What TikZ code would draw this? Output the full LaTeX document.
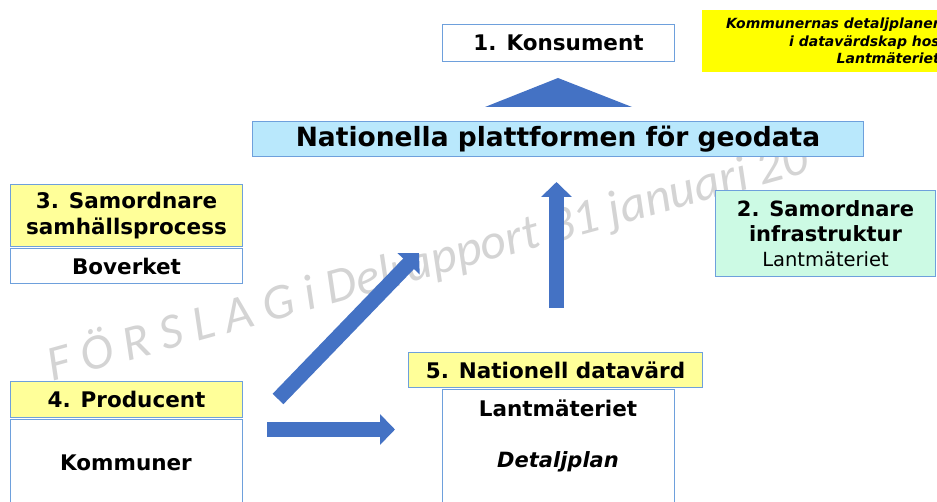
\documentclass[tikz,border=0pt]{standalone}
\usepackage{fontspec}
\setmainfont{DejaVu Sans}
\newfontfamily\wmfont{Carlito}
\usetikzlibrary{arrows.meta}
\definecolor{bordblue}{RGB}{110,160,220}
\definecolor{arrblue}{RGB}{68,114,196}
\definecolor{lightyel}{RGB}{255,255,153}
\definecolor{platblue}{RGB}{185,232,252}
\definecolor{mint}{RGB}{204,250,228}
\definecolor{wmgray}{RGB}{212,212,212}
\definecolor{notey}{RGB}{255,255,0}
\tikzset{
  box/.style={draw=bordblue, line width=1pt, anchor=north west, inner sep=0pt, align=center, text=black},
  bf20/.style={font=\fontsize{21.5}{26}\selectfont\bfseries},
  bigarrow/.style={draw=arrblue, line width=15pt, -{Triangle[length=15pt,width=30pt]}},
}
\begin{document}
\begin{tikzpicture}[x=1pt,y=-1pt]
\useasboundingbox (0,0) rectangle (937,502);
\clip (0,0) rectangle (937,502);
% watermark
\node[text=wmgray, rotate=15.5, anchor=base west, inner sep=0pt,
      font=\fontsize{50}{54}\selectfont\wmfont\itshape] (wm) at (52,382)
      {F Ö R S L A G i Delrapport 31 januari 20};
% top note
\node[fill=notey, anchor=north west, minimum width=240pt, minimum height=62pt, inner sep=0pt] (note) at (702,10) {};
\node[anchor=north east, align=right, inner sep=0pt,
      font=\fontsize{14}{17.5}\selectfont\bfseries\itshape] (notetext) at (940,18)
      {Kommunernas detaljplaner\\i datavärdskap hos\\Lantmäteriet};
% 1. Konsument
\node[box, fill=white, minimum width=232pt, minimum height=37pt, bf20] (kons) at (442,24) {1. Konsument};
% triangle
\fill[arrblue] (485,107) -- (558,78) -- (632,107) -- cycle;
% platform
\node[box, fill=platblue, minimum width=611pt, minimum height=35pt,
      font=\fontsize{26.5}{30}\selectfont\bfseries] (plat) at (252,121) {Nationella plattformen för geodata};
% 3. Samordnare samhällsprocess
\node[box, fill=lightyel, minimum width=232pt, minimum height=62pt, bf20] (s3) at (10,184) {3. Samordnare\\samhällsprocess};
\node[box, fill=white, minimum width=232pt, minimum height=35pt, bf20] (bov) at (10,248) {Boverket};
% 2. Samordnare infrastruktur
\node[box, fill=mint, minimum width=220pt, minimum height=86pt,
      font=\fontsize{21}{25}\selectfont] (s2) at (715,190) {\textbf{2. Samordnare}\\\textbf{infrastruktur}\\\fontsize{19.5}{25}\selectfont Lantmäteriet};
% 4. Producent
\node[box, fill=lightyel, minimum width=232pt, minimum height=36pt, bf20] (prod) at (10,381) {4. Producent};
\node[box, fill=white, minimum width=232pt, minimum height=100pt] (komm) at (10,419) {};
\node[bf20, inner sep=0pt] (kommtext) at (126,463) {Kommuner};
% 5. Nationell datavärd
\node[box, fill=lightyel, minimum width=294pt, minimum height=35pt, bf20] (dv) at (408,352) {5. Nationell datavärd};
\node[box, fill=white, minimum width=232pt, minimum height=130pt] (lm) at (442,389) {};
\node[inner sep=0pt, bf20] (lmtext) at (558,408) {Lantmäteriet};
\node[inner sep=0pt, font=\fontsize{21}{24}\selectfont\bfseries\itshape] (dp) at (558,462) {Detaljplan};
% arrows
\coordinate (hs) at (267,429.5);
\coordinate (he) at (395,429.5);
\coordinate (vs) at (556.5,308);
\coordinate (ve) at (556.5,182);
\coordinate (ds) at (278,399);
\coordinate (de) at (419,253);
\draw[bigarrow] (hs) -- (he);
\draw[bigarrow] (vs) -- (ve);
\draw[bigarrow] (ds) -- (de);
\end{tikzpicture}
\end{document}
